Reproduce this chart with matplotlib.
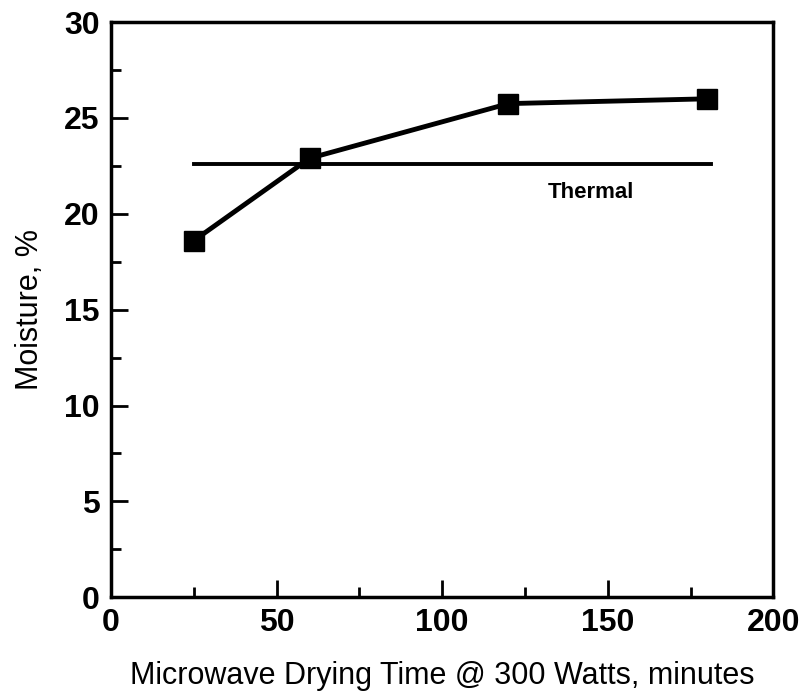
import matplotlib
matplotlib.use("Agg")
import matplotlib.pyplot as plt
from matplotlib.ticker import MultipleLocator

# microwave drying data
drying_time = [25, 60, 120, 180]
moisture = [18.6, 22.9, 25.75, 26.0]

# thermal reference level
thermal_x = [25, 181]
thermal_y = [22.6, 22.6]

plt.rcParams['font.family'] = ['Liberation Sans', 'DejaVu Sans']

fig = plt.figure(figsize=(8.04, 6.92), dpi=100)
ax = fig.add_axes([0.138, 0.137, 0.824, 0.831])

ax.plot(drying_time, moisture, color="black", lw=3.5, marker="s", ms=15, mfc="black", mec="black")
ax.plot(thermal_x, thermal_y, color="black", lw=2.8)
ax.text(145, 21.1, "Thermal", ha="center", va="center", fontsize=16, fontweight="bold")

ax.set_xlim(0, 200)
ax.set_ylim(0, 30)
ax.xaxis.set_major_locator(MultipleLocator(50))
ax.xaxis.set_minor_locator(MultipleLocator(25))
ax.yaxis.set_major_locator(MultipleLocator(5))
ax.yaxis.set_minor_locator(MultipleLocator(2.5))
ax.tick_params(which="both", direction="in", top=False, right=False, width=2)
ax.tick_params(which="major", length=12, labelsize=23, pad=8)
ax.tick_params(which="minor", length=7)
for lab in ax.get_xticklabels() + ax.get_yticklabels():
    lab.set_fontweight("bold")
for sp in ax.spines.values():
    sp.set_linewidth(2.5)

ax.set_xlabel("Microwave Drying Time @ 300 Watts, minutes", fontsize=22, labelpad=16)
ax.set_ylabel("Moisture, %", fontsize=22, labelpad=14)

fig.savefig("out.png", dpi=100)
